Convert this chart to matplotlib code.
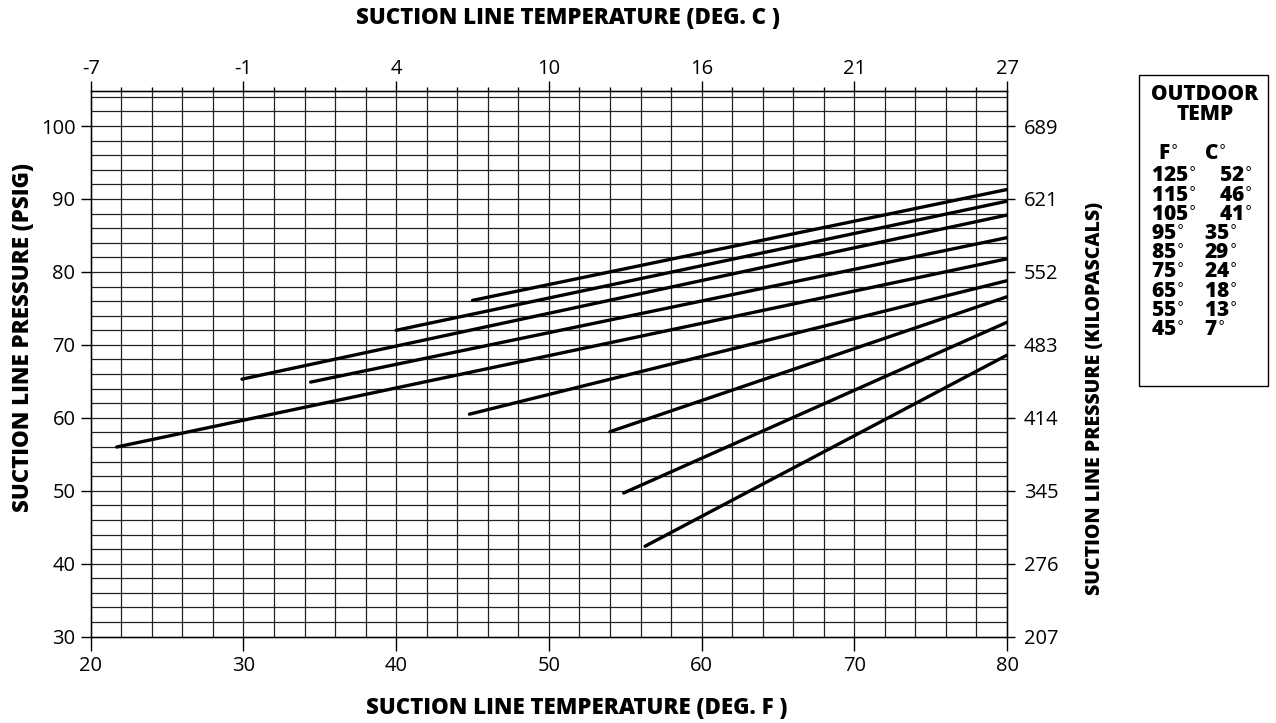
import matplotlib
matplotlib.use('Agg')
import matplotlib.pyplot as plt
from matplotlib.patches import Rectangle
import numpy as np

# outdoor temperature curves: start / end points
outdoor_f = [125, 115, 105, 95, 85, 75, 65, 55, 45]
outdoor_c = [52, 46, 41, 35, 29, 24, 18, 13, 7]
start_f = [45.0, 40.0, 29.9, 34.4, 21.7, 44.8, 54.0, 54.9, 56.3]
start_psi = [76.1, 72.0, 65.3, 64.9, 56.0, 60.5, 58.1, 49.7, 42.4]
end_f = [80, 80, 80, 80, 80, 80, 80, 80, 80]
end_psi = [91.3, 89.7, 87.8, 84.7, 81.8, 78.8, 76.6, 73.1, 68.6]

f_ticks = [20, 30, 40, 50, 60, 70, 80]
c_labels = ['-7', '-1', '4', '10', '16', '21', '27']
psi_ticks = [30, 40, 50, 60, 70, 80, 90, 100]
kpa_labels = ['207', '276', '345', '414', '483', '552', '621', '689']

tickfont = 'Open Sans'
boldfont = 'Open Sans'
bw = 800  # extra bold

fig = plt.figure(figsize=(12.76, 7.23), dpi=100)
ax = fig.add_axes([0.0711, 0.1194, 0.7181, 0.7547])
ax.set_xlim(20, 80)
ax.set_ylim(30, 104.8)

# grid every 2 deg F and 2 psig
for x in np.arange(22, 80, 2):
    ax.axvline(x, color='#222222', lw=0.9, zorder=1)
for y in np.arange(32, 105, 2):
    ax.axhline(y, color='#222222', lw=0.9, zorder=1)

for i in range(len(outdoor_f)):
    ax.plot([start_f[i], end_f[i]], [start_psi[i], end_psi[i]], color='black',
            lw=2.4, solid_capstyle='round', zorder=3)

ax.set_xticks(f_ticks)
ax.set_yticks(psi_ticks)
ax.tick_params(axis='x', direction='out', length=10, width=1, labelsize=14.5, pad=4)
ax.tick_params(axis='y', direction='out', length=7, width=1, labelsize=14.5, pad=4)
for lab in ax.get_xticklabels() + ax.get_yticklabels():
    lab.set_fontfamily(tickfont)
for s in ax.spines.values():
    s.set_linewidth(1.0)

# top axis in deg C
axt = ax.twiny()
axt.set_xlim(ax.get_xlim())
axt.set_xticks(f_ticks)
axt.set_xticklabels(c_labels, fontfamily=tickfont, fontsize=14.5)
axt.set_xticks(np.arange(22, 80, 2), minor=True)
axt.tick_params(axis='x', which='major', direction='out', length=7, width=1, pad=2)
axt.tick_params(axis='x', which='minor', direction='out', length=3, width=1)

# right axis in kPa
axr = ax.twinx()
axr.set_ylim(ax.get_ylim())
axr.set_yticks(psi_ticks)
axr.set_yticklabels(kpa_labels, fontfamily=tickfont, fontsize=14.5)
axr.tick_params(axis='y', direction='out', length=6, width=1, pad=6)

lab_kw = dict(fontsize=16, fontweight=bw, fontfamily=boldfont)
fig.text(0.445, 0.975, 'SUCTION LINE TEMPERATURE (DEG. C )', ha='center', va='center', **lab_kw)
fig.text(0.452, 0.021, 'SUCTION LINE TEMPERATURE (DEG. F )', ha='center', va='center', **lab_kw)
fig.text(0.018, 0.533, 'SUCTION LINE PRESSURE (PSIG)', ha='center', va='center',
         rotation=90, **lab_kw)
fig.text(0.858, 0.4495, 'SUCTION LINE PRESSURE (KILOPASCALS)', ha='center', va='center',
         rotation=90, fontsize=14, fontweight=bw, fontfamily=boldfont)

# legend box
fig.patches.append(Rectangle((0.893, 0.466), 0.1007, 0.43, transform=fig.transFigure,
                             fill=False, edgecolor='black', lw=1.0))
leg_kw = dict(fontsize=15, fontweight=bw, fontfamily=boldfont)
deg = r'$^{\circ}$'
lx = 1205 / 1276
fig.text(lx, 1 - 95 / 723, 'OUTDOOR', ha='center', va='center', **leg_kw)
fig.text(lx, 1 - 115 / 723, 'TEMP', ha='center', va='center', **leg_kw)
fig.text(1158 / 1276, 1 - 155 / 723, 'F' + deg, ha='left', va='center', **leg_kw)
fig.text(1204 / 1276, 1 - 155 / 723, 'C' + deg, ha='left', va='center', **leg_kw)
for i in range(len(outdoor_f)):
    yy = 1 - (177 + i * 19.2) / 723
    fig.text(1151 / 1276, yy, '%d' % outdoor_f[i] + deg, ha='left', va='center', **leg_kw)
    cx = 1219 if i < 3 else 1204
    fig.text(cx / 1276, yy, '%d' % outdoor_c[i] + deg, ha='left', va='center', **leg_kw)

fig.savefig('out.png', dpi=100)
